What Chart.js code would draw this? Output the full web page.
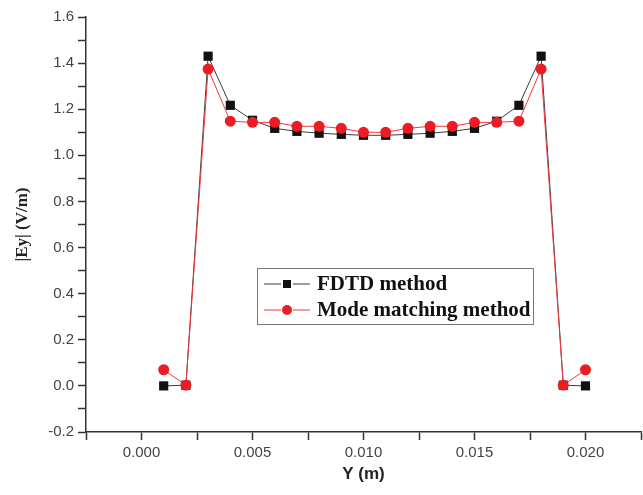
<!DOCTYPE html>
<html>
<head>
<meta charset="utf-8">
<script src="https://cdn.jsdelivr.net/npm/chart.js@4"></script>
<style>
  html, body { margin: 0; padding: 0; background: #fff; }
  #wrap { width: 643px; height: 495px; position: relative; }
</style>
</head>
<body>
<div id="wrap"><canvas id="myChart"></canvas></div>
<script>
const yPos = [0.001,0.002,0.003,0.004,0.005,0.006,0.007,0.008,0.009,0.010,
              0.011,0.012,0.013,0.014,0.015,0.016,0.017,0.018,0.019,0.020];
const fdtd = [0.0,0.003,1.43,1.217,1.152,1.117,1.104,1.096,1.091,1.087,
              1.087,1.091,1.096,1.104,1.117,1.148,1.217,1.43,0.003,0.0];
const modeMatch = [0.07,0.003,1.374,1.148,1.143,1.143,1.126,1.126,1.117,1.100,
                   1.100,1.117,1.126,1.126,1.143,1.143,1.148,1.374,0.003,0.07];
const seriesNames = ["FDTD method", "Mode matching method"];
const xTickLabels = ["0.000","0.005","0.010","0.015","0.020"];
const yTickLabels = ["-0.2","0.0","0.2","0.4","0.6","0.8","1.0","1.2","1.4","1.6"];

const axisColor = "#333";
const tickFont = {family: "Liberation Sans", size: 15};

// legend box drawn inside the plot area
const boxLegend = {
  id: "boxLegend",
  afterDatasetsDraw(chart) {
    const ctx = chart.ctx;
    const x0 = 257, y0 = 268, w = 276, h = 56;
    ctx.save();
    ctx.strokeStyle = "#777";
    ctx.lineWidth = 1;
    ctx.strokeRect(x0 + 0.5, y0 + 0.5, w, h);
    ctx.font = "bold 21px 'Liberation Serif'";
    ctx.textBaseline = "middle";
    chart.data.datasets.forEach((ds, i) => {
      const cy = y0 + 16 + i * 26;
      ctx.strokeStyle = ds.borderColor;
      ctx.lineWidth = 1;
      ctx.beginPath();
      ctx.moveTo(x0 + 7, cy); ctx.lineTo(x0 + 24, cy);
      ctx.moveTo(x0 + 36, cy); ctx.lineTo(x0 + 53, cy);
      ctx.stroke();
      ctx.fillStyle = ds.pointBackgroundColor;
      if (ds.pointStyle === "rect") {
        ctx.fillRect(x0 + 26, cy - 4, 8, 8);
      } else {
        ctx.beginPath(); ctx.arc(x0 + 30, cy, 5, 0, Math.PI * 2); ctx.fill();
      }
      ctx.fillStyle = "#111";
      ctx.fillText(ds.label, x0 + 60, cy + 1);
    });
    ctx.restore();
  }
};

new Chart("myChart", {
  type: "line",
  data: {
    datasets: [{
      label: seriesNames[0],
      data: yPos.map((v, i) => ({x: v, y: fdtd[i]})),
      borderColor: "#3a3a3a",
      borderWidth: 1,
      pointStyle: "rect",
      pointRadius: 6.5,
      pointBackgroundColor: "#111",
      pointBorderWidth: 0,
      fill: false,
      order: 2
    },{
      label: seriesNames[1],
      data: yPos.map((v, i) => ({x: v, y: modeMatch[i]})),
      borderColor: "#f0383a",
      borderWidth: 1,
      pointStyle: "circle",
      pointRadius: 5.5,
      pointBackgroundColor: "#ec1c24",
      pointBorderWidth: 0,
      fill: false,
      order: 1
    }]
  },
  options: {
    responsive: true,
    maintainAspectRatio: false,
    animation: false,
    layout: {autoPadding: false, padding: {top: 17, right: 2, left: 0, bottom: 10}},
    plugins: {legend: {display: false}, tooltip: {enabled: false}},
    scales: {
      x: {
        type: "linear",
        min: -0.0025,
        max: 0.0225,
        afterFit(scale) {
          scale.height = 53;
          scale.paddingLeft = 0;
          scale.paddingRight = 0;
        },
        afterBuildTicks(scale) {
          const t = [];
          for (let k = 0; k <= 10; k++) t.push({value: -0.0025 + k * 0.0025});
          scale.ticks = t;
        },
        border: {color: axisColor, width: 1.5},
        grid: {display: true, drawOnChartArea: false, drawTicks: true, tickLength: 8,
               tickColor: axisColor, tickWidth: 1.5},
        ticks: {
          color: "#444", font: tickFont, padding: 4, maxRotation: 0, autoSkip: false,
          callback(v, i) { return i % 2 === 1 ? xTickLabels[(i - 1) / 2] : ""; }
        },
        title: {display: true, text: "Y (m)", color: "#222",
                font: {family: "Liberation Sans", size: 17, weight: "bold"}, padding: {top: 4, bottom: 0}}
      },
      y: {
        min: -0.2,
        max: 1.6,
        afterFit(scale) { scale.width = 86; },
        afterBuildTicks(scale) {
          const t = [];
          for (let k = 0; k <= 18; k++) t.push({value: -0.2 + k * 0.1});
          scale.ticks = t;
        },
        border: {color: axisColor, width: 1.5},
        grid: {display: true, drawOnChartArea: false, drawTicks: true, tickLength: 8,
               tickColor: axisColor, tickWidth: 1.5},
        ticks: {
          color: "#444", font: tickFont, padding: 4, autoSkip: false,
          callback(v, i) { return i % 2 === 0 ? yTickLabels[i / 2] : ""; }
        },
        title: {display: true, text: "|Ey| (V/m)", color: "#222",
                font: {family: "Liberation Serif", size: 17, weight: "bold"}, padding: {top: 12, bottom: 0}}
      }
    }
  },
  plugins: [boxLegend]
});
</script>
</body>
</html>
